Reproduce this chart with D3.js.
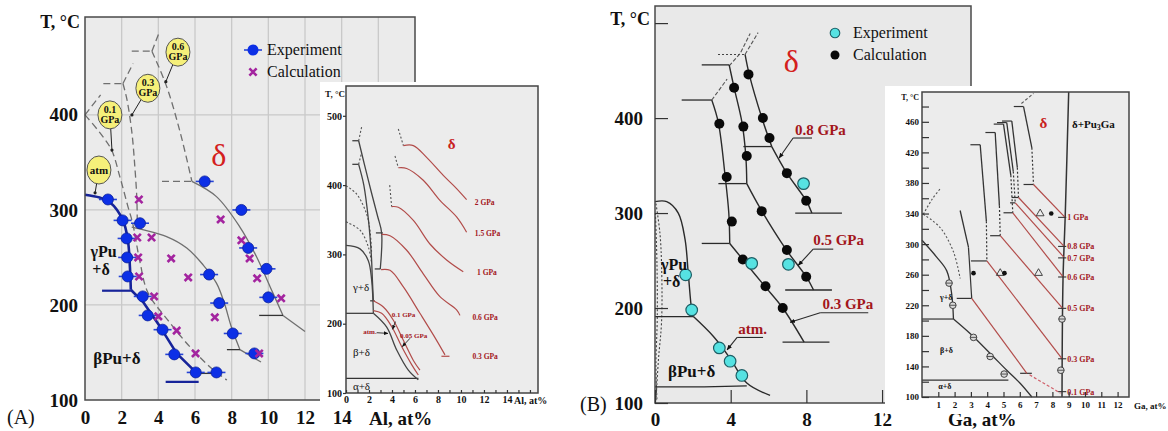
<!DOCTYPE html>
<html>
<head>
<meta charset="utf-8">
<title>Pu-Al and Pu-Ga phase diagrams under pressure</title>
<script src="https://cdn.jsdelivr.net/npm/d3@7"></script>
<style>
    body { margin: 0; background: #fff; }
    svg { display: block; font-family: "Liberation Serif", "DejaVu Serif", serif; }
</style>
</head>
<body>
<svg id="chart" width="1168" height="431"></svg>
<script>
// ---------- (A) Pu-Al, main plot ----------
const aXTicks = [0, 2, 4, 6, 8, 10, 12, 14];
const aYTicks = [100, 200, 300, 400];
const aGridX = [2, 4, 6, 8, 10, 12, 14, 16];
const aGridY = [200, 300, 400];

const aExp = [[1.25, 311], [2.05, 289], [2.27, 270], [2.3, 250], [2.33, 230], [3.0, 286],
    [3.15, 209], [3.42, 189], [4.23, 174], [4.87, 148], [6.04, 129], [7.17, 129],
    [6.53, 330], [6.77, 232], [7.32, 202], [8.06, 170], [8.53, 300], [8.9, 260],
    [9.9, 238], [10.0, 208], [9.24, 149]];
const aCalc = [[2.94, 311], [2.85, 271], [2.9, 250], [2.95, 230], [3.63, 271], [3.77, 209],
    [4.0, 188], [5.0, 173], [6.03, 149], [4.7, 249], [5.63, 229], [7.08, 187],
    [7.4, 290], [8.53, 268], [8.98, 249], [9.39, 228], [10.7, 207], [9.5, 149]];

const aAtmUpper = [[0, 316], [0.8, 313], [1.36, 308], [2.07, 289], [2.34, 268], [2.45, 240], [2.5, 216]];
const aAtmLower = [[2.5, 216], [3.17, 203], [4.1, 177], [5.0, 149], [5.9, 132], [6.2, 125]];
const aAtmSteps = [[[0.93, 215], [2.5, 215]], [[4.4, 119], [6.2, 119]]];

const aP01 = [[0, 400], [0.82, 381], [1.45, 363], [1.9, 335], [2.35, 303], [2.6, 286], [3.0, 245],
    [3.43, 213], [4.52, 184], [5.72, 156], [6.98, 132], [7.74, 121]];
const aP01Step = [[6.16, 128], [7.2, 128]];
const aP03Dash = [[2.07, 433], [2.29, 416], [2.56, 381], [2.72, 345], [2.83, 311], [2.85, 282]];
const aP03 = [[2.55, 282], [3.2, 279], [4.45, 272], [5.55, 260], [6.45, 242], [7.17, 223],
    [7.6, 202], [7.98, 177], [8.45, 153]];
const aP03Tail = [[8.45, 153], [9.6, 140]];
const aP03Step = [[7.74, 153], [8.45, 153]];
const aP06Dash = [[3.65, 467], [4.45, 430], [5.2, 381], [5.83, 330]];
const aP06 = [[5.83, 330], [7.17, 314], [8.45, 282], [9.35, 251], [10.1, 219], [10.8, 189]];
const aP06Tail = [[10.8, 189], [12.0, 172]];
const aP06Step = [[9.5, 189], [10.8, 189]];
const aP06DashStep = [[4.2, 330], [5.83, 330]];
const aTopDash = [[[0, 400], [0.85, 421]], [[1.0, 433], [2.07, 433]], [[2.07, 433], [2.62, 454]],
    [[2.55, 467], [3.65, 467]], [[3.65, 467], [4.05, 487]]];

const aBubbleText = [["0.6", "GPa"], ["0.3", "GPa"], ["0.1", "GPa"], ["atm"]];
const aBubbleAt = [[5.07, 466], [3.43, 428], [1.36, 400], [0.76, 342]];
const aBubbleTip = [[4.41, 435], [2.56, 400], [1.47, 363], [0.55, 318]];

// ---------- (A) inset ----------
const aiXTicks = [0, 2, 4, 6, 8, 10, 12, 14];
const aiXMinor = [1, 3, 5, 7, 9, 11, 13, 15, 16];
const aiYTicks = [100, 200, 300, 400, 500];

const aiAtmGamma = [[0, 313], [1.22, 308], [1.94, 291], [2.23, 263], [2.38, 215]];
const aiAtmBeta = [[2.38, 215], [3.54, 195], [4.41, 162], [5.42, 133], [6.29, 119]];
const aiSteps = [[[0, 215], [2.38, 215]], [[0, 121], [6.3, 121]], [[0.55, 464], [1.1, 464]],
    [[0.55, 430], [1.1, 430]], [[2.1, 233], [2.5, 233]], [[2.6, 331], [3.2, 331]], [[2.5, 279], [3.0, 279]]];
const aiBlackOuter = [[1.1, 464], [1.6, 430], [2.2, 390], [2.75, 355], [3.1, 331], [2.98, 279]];
const aiBlackInner = [[1.1, 430], [1.55, 400], [1.95, 350], [2.2, 300], [2.3, 262], [2.38, 233]];
const aiDotted = [[[0, 399], [0.93, 387], [1.8, 358], [2.09, 334], [2.23, 301]],
    [[0, 347], [1.22, 335], [1.94, 311], [2.23, 287]],
    [[1.1, 464], [1.36, 484]], [[1.1, 430], [1.36, 447]],
    [[4.55, 481], [4.99, 457]], [[4.26, 442], [4.55, 425]], [[3.8, 400], [3.97, 369]]];

const aiRedNames = ["2 GPa", "1.5 GPa", "1 GPa", "0.6 GPa", "0.3 GPa"];
const aiRedLabelAt = [[11.2, 372], [11.2, 327], [11.4, 270], [11.0, 205], [11.0, 149]];
const aiRed2 = [[4.99, 457], [5.86, 457], [7.01, 440], [8.46, 414], [9.62, 395], [10.49, 379]];
const aiRed15 = [[4.55, 425], [5.28, 424], [6.72, 407], [8.17, 378], [9.62, 354], [10.49, 332]];
const aiRed1 = [[3.97, 369], [4.55, 368], [5.86, 349], [7.3, 315], [8.75, 292], [10.2, 275]];
const aiRed06 = [[3.1, 329], [3.83, 327], [5.28, 306], [6.72, 272], [8.17, 239], [9.62, 220], [9.91, 212]];
const aiRed03 = [[3.05, 278], [3.83, 277], [4.99, 253], [6.43, 215], [7.88, 176], [8.61, 155]];
const aiRed03Tail = [[8.3, 153], [9.0, 153]];
const aiRed01 = [[2.38, 233], [3.25, 224], [4.12, 205], [4.99, 176], [5.86, 147], [6.43, 133]];
const aiRed005 = [[2.38, 219], [3.1, 215], [3.97, 196], [4.84, 167], [5.71, 141], [6.29, 126]];
const aiSmallNames = ["0.1 GPa", "0.05 GPa", "atm."];
const aiSmallAt = [[3.97, 209], [4.7, 180], [1.5, 185]];
const aiSmallArrow = [[[4.3, 203], [4.05, 192]], [[5.57, 179], [4.9, 167]], [[2.67, 187], [3.65, 186]]];

// ---------- (B) Pu-Ga, main plot ----------
const bXTicks = [0, 4, 8, 12];
const bYTicks = [100, 200, 300, 400, 500];

const bCyan = [[1.62, 235], [1.94, 198], [3.4, 158], [3.97, 144], [4.59, 129], [5.11, 247], [7.05, 246], [7.85, 331]];
const bBlack = [[3.4, 394], [3.79, 338], [4.06, 291], [4.64, 251], [5.84, 223], [6.75, 200],
    [4.18, 432], [4.67, 391], [4.85, 360], [5.64, 302], [6.97, 261], [7.99, 233],
    [4.94, 446], [5.7, 400], [6.05, 379], [6.97, 342], [7.99, 313]];

const bAtmGamma = [[0, 312], [0.62, 312], [1.23, 300], [1.59, 272], [1.76, 236], [1.94, 198], [2.03, 191]];
const bAtmBeta = [[2.03, 191], [3.09, 170], [3.97, 147], [4.85, 121], [6.08, 108]];
const bP03Upper = [[3.0, 419], [3.35, 395], [3.7, 340], [3.9, 300], [3.95, 268]];
const bP03Lower = [[3.95, 268], [4.6, 252], [5.8, 223], [6.75, 200], [7.88, 164]];
const bP05Upper = [[3.92, 456], [4.18, 432], [4.6, 395], [4.8, 360], [4.85, 331]];
const bP05Lower = [[4.85, 331], [5.62, 303], [6.95, 261], [7.99, 233], [8.38, 219]];
const bP08Upper = [[4.76, 467], [4.98, 446], [5.65, 400], [6.17, 370]];
const bP08Lower = [[6.17, 370], [6.97, 342], [7.99, 313], [8.29, 300]];
const bSteps = [[[0, 191], [2.03, 191]], [[0, 117], [2.6, 117], [4.85, 118]],
    [[1.41, 419], [3.0, 419]], [[2.47, 268], [3.95, 268]], [[6.74, 164], [9.22, 164]],
    [[2.47, 456], [3.92, 456]], [[3.35, 331], [4.85, 331]], [[6.88, 219], [9.35, 219]],
    [[4.67, 370], [6.17, 370]], [[7.41, 300], [9.88, 300]]];
const bDashed = [[[3.0, 419], [3.81, 441]], [[3.92, 455], [4.5, 468], [5.03, 489]], [[4.76, 467], [5.45, 490]]];
const bDotted = [[[3.33, 467], [4.76, 467]],
    [[0.05, 310], [0.26, 279], [0.35, 243], [0.35, 187], [0.18, 145], [0.05, 103]],
    [[0.02, 300], [0.1, 250], [0.12, 190], [0.05, 140], [0.1, 104]]];

const bPressNames = ["0.8 GPa", "0.5 GPa", "0.3 GPa", "atm."];
const bPressLabelAt = [[7.4, 382], [8.36, 266], [8.85, 199], [4.4, 173]];
const bLeaderFlat = [[[7.3, 379], [8.3, 379]], [[8.36, 262], [9.42, 262]], [[8.73, 195], [11.27, 195]], [[4.34, 169], [5.71, 169]]];
const bLeaderTip = [[6.56, 358], [7.57, 245], [7.14, 185], [3.81, 156]];

// ---------- (B) inset ----------
const ciXTicks = [1, 2, 3, 4, 5, 6, 7, 8, 9, 10, 11, 12];
const ciYTicks = [100, 120, 140, 160, 180, 200, 220, 240, 260, 280, 300, 320, 340, 360, 380, 400, 420, 440, 460, 480];
const ciYLabels = [100, 140, 180, 220, 260, 300, 340, 380, 420, 460];

const ciAtmGamma = [[0, 305], [0.9, 283], [1.52, 265], [1.82, 235], [1.93, 202]];
const ciAtmBeta = [[1.93, 202], [2.95, 183], [4.18, 157], [5.2, 135], [6.02, 118], [6.74, 100]];
const ciSteps = [[[0, 202], [1.93, 202]], [[0, 122], [5.3, 122]], [[6.02, 131], [6.74, 131]]];
const ciSolvus = [[9.0, 499], [8.79, 339], [8.65, 252], [8.59, 100]];
const ciDotted = [[[0.08, 339], [0.6, 358], [1.1, 372]], [[0.08, 339], [1.1, 322], [1.93, 290], [2.34, 255]]];
const ciTopDash = [[6.1, 484], [6.84, 497]];

const ciPress = ["1 GPa", "0.8 GPa", "0.7 GPa", "0.6 GPa", "0.5 GPa", "0.3 GPa", "0.1 GPa"];
const ciTop = [[6.23, 480], [5.51, 461], [5.2, 459], [5.0, 457], [4.49, 446], [3.57, 430], [2.34, 344]];
const ciMid = [[6.74, 426], [5.85, 400], [5.6, 395], [5.45, 390], [4.75, 350], [3.95, 330], [2.85, 296]];
const ciVertex = [[6.84, 378], [5.92, 361], [5.72, 354], [5.57, 341], [4.8, 311], [3.98, 278], [3.05, 229]];
const ciVertexTickFrom = [6.23, 5.5, 5.4, 5.0, 4.18, 3.0, 2.13];
const ciRedEnd = [[8.78, 335], [8.72, 297], [8.7, 283], [8.66, 257], [8.63, 216], [8.6, 150], [6.43, 131]];
const ciLabelT = [335, 297, 282, 257, 216, 150, 107];
const ciRedDash = [[6.6, 129], [8.5, 105]];

const ciExp = [[1.66, 249], [1.89, 220], [3.16, 178], [4.18, 153], [5.04, 130], [8.59, 202], [8.52, 135]];
const ciTri = [[7.25, 340], [4.8, 262], [7.15, 262]];
const ciCalc = [[7.93, 340], [3.16, 262], [5.06, 262]];

// ---------- helpers ----------
const svg = d3.select("#chart");
const SERIF = "'Liberation Serif', 'DejaVu Serif', serif";
const INK = "#111";
const RED = "#a3161c";
const INSET_RED = "#b24c4a";

svg.append("defs").append("marker")
    .attr("id", "arrow")
    .attr("viewBox", "0 0 10 10")
    .attr("refX", 9).attr("refY", 5)
    .attr("markerWidth", 5).attr("markerHeight", 5)
    .attr("orient", "auto")
    .append("path")
    .attr("d", "M0,1 L10,5 L0,9 z")
    .attr("fill", "#111");

function lineOf(x, y, curve)
{
    return d3.line()
        .x(d => x(d[0]))
        .y(d => y(d[1]))
        .curve(curve || d3.curveLinear);
}

function path(g, data, line, color, width, dash)
{
    return g.append("path")
        .attr("d", line(data))
        .attr("fill", "none")
        .attr("stroke", color)
        .attr("stroke-width", width)
        .attr("stroke-dasharray", dash || null)
        .attr("stroke-linejoin", "round");
}

function text(g, x, y, str, size, opts)
{
    opts = opts || {};
    return g.append("text")
        .attr("x", x).attr("y", y)
        .attr("font-size", size)
        .attr("font-weight", opts.weight || "normal")
        .attr("fill", opts.color || INK)
        .attr("text-anchor", opts.anchor || "start")
        .text(str);
}

function plotRect(g, x, y, fill, stroke)
{
    return g.append("rect")
        .attr("x", x.range()[0])
        .attr("y", y.range()[1])
        .attr("width", x.range()[1] - x.range()[0])
        .attr("height", y.range()[0] - y.range()[1])
        .attr("fill", fill)
        .attr("stroke", stroke || "none")
        .attr("stroke-width", 1.5);
}

function styleAxis(g, size, weight)
{
    g.attr("font-family", SERIF)
        .attr("font-size", size)
        .attr("font-weight", weight);
    g.select(".domain").remove();
    g.selectAll("text").attr("fill", INK);
    g.selectAll(".tick line").attr("stroke", "#333").attr("stroke-width", 1.2);
}

// ---------- panel A ----------
function drawMainA()
{
    const g = svg.append("g");
    const x = d3.scaleLinear().domain([0, 18]).range([85, 415]);
    const y = d3.scaleLinear().domain([100, 503]).range([400, 17]);
    const straight = lineOf(x, y);
    const smooth = lineOf(x, y, d3.curveCatmullRom);

    plotRect(g, x, y, "#ebebeb");

    g.selectAll(".gx").data(aGridX).join("line")
        .attr("x1", d => x(d)).attr("x2", d => x(d))
        .attr("y1", y(503)).attr("y2", y(100))
        .attr("stroke", "#c9c9c9").attr("stroke-width", 1.3);
    g.selectAll(".gy").data(aGridY).join("line")
        .attr("x1", x(0)).attr("x2", x(18))
        .attr("y1", d => y(d)).attr("y2", d => y(d))
        .attr("stroke", "#c9c9c9").attr("stroke-width", 1.3);

    // grey calculated boundaries
    const grey = "#6f6f6f";
    path(g, aP01, smooth, grey, 1.3, "7,4");
    path(g, aP03Dash, smooth, grey, 1.3, "7,4");
    path(g, aP06Dash, smooth, grey, 1.3, "7,4");
    path(g, aP06DashStep, straight, grey, 1.3, "7,4");
    aTopDash.forEach(d => path(g, d, straight, grey, 1.3, "7,4"));
    path(g, aP03, smooth, grey, 1.3);
    path(g, aP03Tail, straight, grey, 1.3);
    path(g, aP06, smooth, grey, 1.3);
    path(g, aP06Tail, straight, grey, 1.3);
    path(g, aP01Step, straight, "#333", 1.3);
    path(g, aP03Step, straight, "#333", 1.3);
    path(g, aP06Step, straight, "#333", 1.3);

    // atmospheric boundary
    path(g, aAtmUpper, smooth, "#17249a", 2.6);
    path(g, aAtmLower, straight, "#17249a", 2.6);
    aAtmSteps.forEach(d => path(g, d, straight, "#17249a", 2.2));

    // experiment points
    const exp = g.selectAll(".exp").data(aExp).join("g")
        .attr("transform", d => `translate(${x(d[0])},${y(d[1])})`);
    exp.append("line")
        .attr("x1", -9).attr("x2", 9)
        .attr("stroke", "#2543d6").attr("stroke-width", 1.6);
    exp.append("circle")
        .attr("r", 5.5)
        .attr("fill", "#0c2fe6")
        .attr("stroke", "#0a1f9a").attr("stroke-width", 0.8);

    // calculation crosses
    g.selectAll(".calc").data(aCalc).join("path")
        .attr("transform", d => `translate(${x(d[0])},${y(d[1])})`)
        .attr("d", "M-3.6,-3.6L3.6,3.6M-3.6,3.6L3.6,-3.6")
        .attr("stroke", "#a3249f").attr("stroke-width", 2.6);

    // pressure bubbles
    aBubbleAt.forEach((p, i) => {
        const cx = x(p[0]), cy = y(p[1]);
        g.append("line")
            .attr("x1", cx).attr("y1", cy)
            .attr("x2", x(aBubbleTip[i][0])).attr("y2", y(aBubbleTip[i][1]))
            .attr("stroke", "#222").attr("stroke-width", 1);
        g.append("circle")
            .attr("cx", x(aBubbleTip[i][0])).attr("cy", y(aBubbleTip[i][1]))
            .attr("r", 1.6).attr("fill", "#222");
        g.append("ellipse")
            .attr("cx", cx).attr("cy", cy)
            .attr("rx", 12).attr("ry", 14)
            .attr("fill", "#f6f07a").attr("stroke", "#555").attr("stroke-width", 1);
        const lines = aBubbleText[i];
        if (lines.length === 1)
            text(g, cx, cy + 4, lines[0], 11, { weight: "bold", anchor: "middle" });
        else
        {
            text(g, cx, cy - 2, lines[0], 10, { weight: "bold", anchor: "middle" });
            text(g, cx, cy + 8, lines[1], 10, { weight: "bold", anchor: "middle" });
        }
    });

    // region labels
    text(g, x(7.3), y(346), "δ", 32, { color: "#d4201c", anchor: "middle" });
    text(g, x(0.3), y(250), "γPu", 16, { weight: "bold" });
    text(g, x(0.4), y(232), "+δ", 16, { weight: "bold" });
    text(g, x(0.45), y(138), "βPu+δ", 17, { weight: "bold" });

    plotRect(g, x, y, "none", "#4a4a4a");

    // axes
    g.append("g")
        .attr("transform", `translate(0,${y(100)})`)
        .call(d3.axisBottom(x).tickValues(aXTicks).tickSize(0).tickPadding(11))
        .call(a => styleAxis(a, 19, "bold"));
    g.append("g")
        .attr("transform", `translate(${x(0)},0)`)
        .call(d3.axisLeft(y).tickValues(aYTicks).tickSize(0).tickPadding(7))
        .call(a => styleAxis(a, 19, "bold"));

    text(g, 80, 28, "T, °C", 18, { weight: "bold", anchor: "end" });
    text(g, 369, 425, "Al, at%", 19, { weight: "bold" });
    text(g, 7, 424, "(A)", 20);

    // legend
    g.append("line").attr("x1", 244).attr("x2", 262).attr("y1", 50).attr("y2", 50)
        .attr("stroke", "#2543d6").attr("stroke-width", 1.6);
    g.append("circle").attr("cx", 253).attr("cy", 50).attr("r", 5.5).attr("fill", "#0c2fe6");
    g.append("path").attr("transform", "translate(253,72)")
        .attr("d", "M-3.6,-3.6L3.6,3.6M-3.6,3.6L3.6,-3.6")
        .attr("stroke", "#a3249f").attr("stroke-width", 2.6);
    text(g, 267, 55, "Experiment", 16);
    text(g, 267, 77, "Calculation", 16);
}

function drawInsetA()
{
    const g = svg.append("g");
    g.append("rect").attr("x", 320).attr("y", 82).attr("width", 226).attr("height", 326).attr("fill", "#fff");

    const x = d3.scaleLinear().domain([0, 16.7]).range([346, 538]);
    const y = d3.scaleLinear().domain([100, 543]).range([393, 86]);
    const straight = lineOf(x, y);
    const smooth = lineOf(x, y, d3.curveCatmullRom);

    plotRect(g, x, y, "#ececec");

    aiDotted.forEach(d => path(g, d, smooth, "#555", 1.1, "2,2"));
    aiSteps.forEach(d => path(g, d, straight, "#333", 1.2));
    path(g, aiBlackOuter, smooth, "#444", 1.3);
    path(g, aiBlackInner, smooth, "#444", 1.3);
    path(g, aiAtmGamma, smooth, "#444", 1.3);
    path(g, aiAtmBeta, smooth, "#444", 1.3);

    [aiRed2, aiRed15, aiRed1, aiRed06, aiRed03, aiRed01, aiRed005]
        .forEach(d => path(g, d, smooth, INSET_RED, 1.2));
    path(g, aiRed03Tail, straight, INSET_RED, 1.2);

    aiRedNames.forEach((n, i) =>
        text(g, x(aiRedLabelAt[i][0]), y(aiRedLabelAt[i][1]), n, 7.5, { weight: "bold", color: RED }));
    aiSmallNames.forEach((n, i) =>
        text(g, x(aiSmallAt[i][0]), y(aiSmallAt[i][1]), n, 7, { weight: "bold", color: RED }));
    aiSmallArrow.forEach(d => path(g, d, straight, "#222", 0.9).attr("marker-end", "url(#arrow)"));

    text(g, x(9.2), y(452), "δ", 15, { color: "#c8201c", anchor: "middle", weight: "bold" });
    text(g, x(0.6), y(247), "γ+δ", 11);
    text(g, x(0.6), y(153), "β+δ", 11);
    text(g, x(0.6), y(105), "α+δ", 11);

    plotRect(g, x, y, "none", "#444");

    g.append("g")
        .attr("transform", `translate(0,${y(100)})`)
        .call(d3.axisBottom(x).tickValues(aiXTicks).tickSize(-3).tickPadding(3))
        .call(a => styleAxis(a, 10, "bold"));
    g.append("g")
        .attr("transform", `translate(0,${y(100)})`)
        .call(d3.axisBottom(x).tickValues(aiXMinor).tickSize(-3).tickFormat(""))
        .call(a => styleAxis(a, 10, "bold"));
    g.append("g")
        .attr("transform", `translate(${x(0)},0)`)
        .call(d3.axisLeft(y).tickValues(aiYTicks).tickSize(3).tickPadding(1))
        .call(a => styleAxis(a, 10, "bold"));

    text(g, 345, 97, "T, °C", 9, { weight: "bold", anchor: "end" });
    text(g, x(14) + 7, 404, "Al, at%", 10, { weight: "bold" });
}

// ---------- panel B ----------
function drawMainB()
{
    const g = svg.append("g");
    const x = d3.scaleLinear().domain([0, 16.7]).range([655, 971]);
    const y = d3.scaleLinear().domain([100, 518]).range([403, 6]);
    const straight = lineOf(x, y);
    const smooth = lineOf(x, y, d3.curveCatmullRom);

    plotRect(g, x, y, "#e9e9e9");

    const ink = "#2a2a2a";
    bDotted.forEach(d => path(g, d, smooth, "#444", 1.1, "2,2"));
    bDashed.forEach(d => path(g, d, straight, "#555", 1.1, "4,2"));
    bSteps.forEach(d => path(g, d, straight, ink, 1.3));
    [bAtmGamma, bAtmBeta, bP03Upper, bP03Lower, bP05Upper, bP05Lower, bP08Upper, bP08Lower]
        .forEach(d => path(g, d, smooth, ink, 1.4));

    // leaders with arrows
    bLeaderFlat.forEach((d, i) => {
        path(g, d, straight, ink, 1.1);
        path(g, [d[0], bLeaderTip[i]], straight, ink, 1.1).attr("marker-end", "url(#arrow)");
    });
    bPressNames.forEach((n, i) =>
        text(g, x(bPressLabelAt[i][0]), y(bPressLabelAt[i][1]), n, 15, { weight: "bold", color: RED }));

    g.selectAll(".calc").data(bBlack).join("circle")
        .attr("cx", d => x(d[0])).attr("cy", d => y(d[1]))
        .attr("r", 5).attr("fill", "#0a0a0a");
    g.selectAll(".exp").data(bCyan).join("circle")
        .attr("cx", d => x(d[0])).attr("cy", d => y(d[1]))
        .attr("r", 5.8).attr("fill", "#56e2e2").attr("stroke", "#1d5f66").attr("stroke-width", 1.2);

    text(g, x(7.2), y(448), "δ", 32, { color: "#d4201c", anchor: "middle" });
    text(g, 661, 270, "γPu", 16, { weight: "bold" });
    text(g, 663, 287, "+δ", 16, { weight: "bold" });
    text(g, 668, 377, "βPu+δ", 17, { weight: "bold" });

    plotRect(g, x, y, "none", "#4a4a4a");

    g.append("g")
        .attr("transform", `translate(0,${y(100)})`)
        .call(d3.axisBottom(x).tickValues(bXTicks).tickSize(-13).tickPadding(10))
        .call(a => styleAxis(a, 19, "bold"));
    g.append("g")
        .attr("transform", `translate(${x(0)},0)`)
        .call(d3.axisLeft(y).tickValues(bYTicks).tickSize(-13).tickPadding(12)
            .tickFormat(d => d === 500 ? "" : d))
        .call(a => styleAxis(a, 19, "bold"));

    text(g, 650, 25, "T, °C", 18, { weight: "bold", anchor: "end" });
    text(g, 948, 426, "Ga, at%", 19, { weight: "bold" });
    text(g, 580, 411, "(B)", 20);

    // legend
    g.append("circle").attr("cx", 835).attr("cy", 33).attr("r", 4.8)
        .attr("fill", "#56e2e2").attr("stroke", "#1d5f66").attr("stroke-width", 1.1);
    g.append("circle").attr("cx", 835).attr("cy", 55).attr("r", 4.5).attr("fill", "#0a0a0a");
    text(g, 853, 38, "Experiment", 16);
    text(g, 853, 60, "Calculation", 16);
}

function drawInsetB()
{
    const g = svg.append("g");
    g.append("rect").attr("x", 885).attr("y", 86).attr("width", 283).attr("height", 328).attr("fill", "#fff");

    const x = d3.scaleLinear().domain([0, 12.7]).range([922, 1129]);
    const y = d3.scaleLinear().domain([100, 499]).range([397, 92]);
    const straight = lineOf(x, y);
    const smooth = lineOf(x, y, d3.curveCatmullRom);

    plotRect(g, x, y, "#ececec");

    const ink = "#333";
    ciDotted.forEach(d => path(g, d, smooth, "#555", 1.1, "2,2"));
    path(g, ciTopDash, straight, "#555", 1.1, "3,2");
    ciSteps.forEach(d => path(g, d, straight, ink, 1.2));
    path(g, ciAtmGamma, smooth, ink, 1.3);
    path(g, ciAtmBeta, smooth, ink, 1.3);
    path(g, ciSolvus, smooth, ink, 1.5);

    ciPress.forEach((n, i) => {
        const last = i === ciPress.length - 1;
        path(g, [ciTop[i], ciMid[i]], straight, ink, 1.3);
        path(g, [ciMid[i], ciVertex[i]], straight, ink, 1.2, last ? null : "2,2");
        if (!last)
            path(g, [[ciTop[i][0] - 0.6, ciTop[i][1]], ciTop[i]], straight, ink, 1.2);
        path(g, [[ciVertexTickFrom[i], ciVertex[i][1]], ciVertex[i]], straight, ink, 1.2);
        path(g, [ciVertex[i], ciRedEnd[i]], straight, INSET_RED, 1.2);
        path(g, [[8.35, ciLabelT[i]], [8.85, ciLabelT[i]]], straight, ink, 1.1);
        text(g, x(8.85) + 1, y(ciLabelT[i]) + 3, n, 8, { weight: "bold", color: RED });
    });
    path(g, ciRedDash, straight, "#d0606a", 1.2, "3,2");

    g.selectAll(".exp").data(ciExp).join("g")
        .attr("transform", d => `translate(${x(d[0])},${y(d[1])})`)
        .call(s => s.append("circle").attr("r", 3.3).attr("fill", "#d8d8d8").attr("stroke", "#333").attr("stroke-width", 0.9))
        .call(s => s.append("line").attr("x1", -3.3).attr("x2", 3.3).attr("stroke", "#333").attr("stroke-width", 0.8));
    g.selectAll(".tri").data(ciTri).join("path")
        .attr("transform", d => `translate(${x(d[0])},${y(d[1])})`)
        .attr("d", d3.symbol(d3.symbolTriangle, 26))
        .attr("fill", "none").attr("stroke", "#333").attr("stroke-width", 0.9);
    g.selectAll(".calc").data(ciCalc).join("circle")
        .attr("cx", d => x(d[0])).attr("cy", d => y(d[1]))
        .attr("r", 2.3).attr("fill", "#111");

    text(g, x(7.45), y(452), "δ", 15, { color: "#c8201c", anchor: "middle", weight: "bold" });
    const pu = text(g, x(9.2), y(452), "δ+Pu", 11, { weight: "bold" });
    pu.append("tspan").attr("font-size", 8).attr("dy", 2).text("3");
    pu.append("tspan").attr("dy", -2).text("Ga");
    text(g, x(1.1), y(227), "γ+δ", 8, { weight: "bold" });
    text(g, x(1.1), y(158), "β+δ", 8, { weight: "bold" });
    text(g, x(1.0), y(111), "α+δ", 8, { weight: "bold" });

    plotRect(g, x, y, "none", "#444");

    g.append("g")
        .attr("transform", `translate(0,${y(100)})`)
        .call(d3.axisBottom(x).tickValues(ciXTicks).tickSize(-5).tickPadding(5))
        .call(a => styleAxis(a, 9, "bold"));
    g.append("g")
        .attr("transform", `translate(${x(0)},0)`)
        .call(d3.axisLeft(y).tickValues(ciYTicks).tickSize(-7).tickPadding(3)
            .tickFormat(d => ciYLabels.includes(d) ? d : ""))
        .call(a => styleAxis(a, 9, "bold"));

    text(g, 919, 100, "T, °C", 8, { weight: "bold", anchor: "end" });
    text(g, 1134, 409, "Ga, at%", 9, { weight: "bold" });
}

drawMainA();
drawInsetA();
drawMainB();
drawInsetB();
</script>
</body>
</html>
